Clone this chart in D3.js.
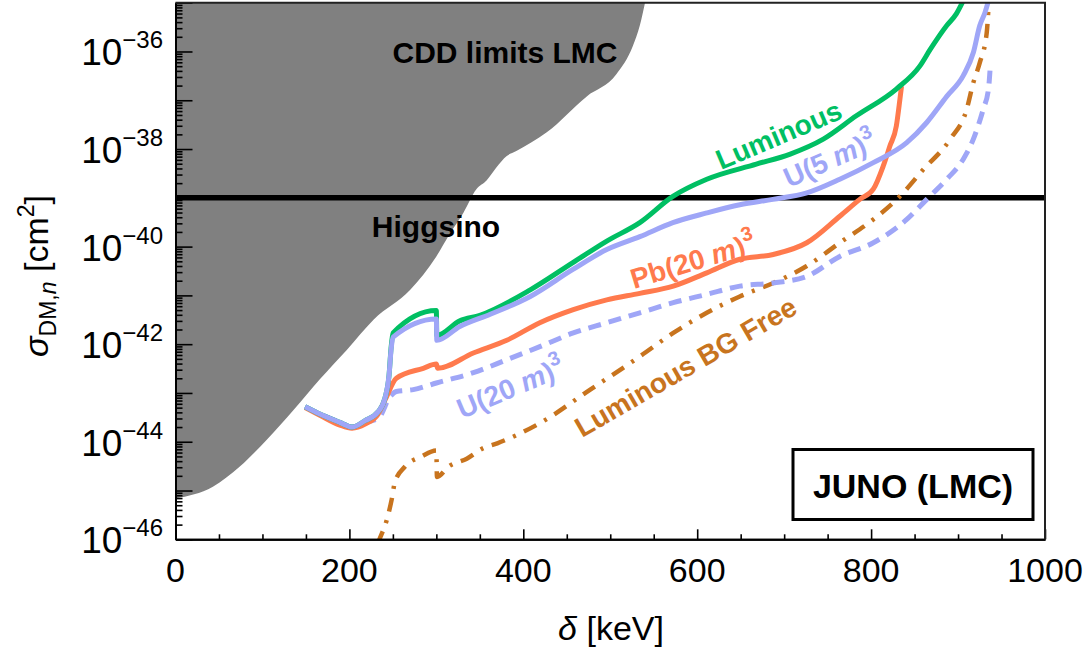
<!DOCTYPE html>
<html>
<head>
<meta charset="utf-8">
<script src="https://cdn.jsdelivr.net/npm/d3@7"></script>
<style>
  body { margin: 0; background: #fff; }
  text { font-family: "Liberation Sans", Arial, sans-serif; }
</style>
</head>
<body>
<div id="chart"></div>
<script>
// ---- data ----
// CDD limits LMC, lower boundary of the grey region
const cddX = [0, 43, 74, 105, 136, 166, 197, 228, 270, 300, 316, 331, 346, 358, 369, 381, 392, 427, 473, 507, 526, 534, 540];
const cddY = [6.9e-46, 1.2e-45, 3.1e-45, 1.1e-44, 4.5e-44, 1.9e-43, 7.6e-43, 3.2e-42, 1.3e-41, 6.3e-41, 1.9e-40, 4.9e-40,
  1.5e-39, 2.3e-39, 4.2e-39, 7.2e-39, 9.1e-39, 2.2e-38, 1.2e-37, 3.4e-37, 1.3e-36, 3.4e-36, 1e-35];

// Luminous (green)
const lumX = [149, 166, 189, 203, 218, 233, 241, 245.6, 247.9, 250.2, 300, 300.5, 327, 350, 408, 457, 496, 534, 572, 611, 668, 707, 745, 783, 829, 856, 868, 887, 898, 906];
const lumY = [5.2e-44, 3.7e-44, 2.5e-44, 2.0e-44, 2.7e-44, 4.1e-44, 7.9e-44, 2.3e-43, 8.3e-43, 1.7e-42, 4.9e-42, 1.5e-42, 3.0e-42, 3.9e-42,
  1.3e-41, 4.7e-41, 1.3e-40, 3.1e-40, 1.07e-39, 2.4e-39, 4.9e-39, 7.9e-39, 1.6e-38, 4.8e-38, 1.7e-37, 5.0e-37, 1.1e-36, 3.4e-36, 5.9e-36, 1.1e-35];

// U(5 m)^3 (lavender, solid)
const u5X = [149, 166, 189, 203, 218, 233, 241, 245.6, 247.9, 250.2, 300, 300.5, 327, 362, 408, 457, 496, 534, 572, 611, 649, 687, 726, 764, 802, 841, 864, 887, 906, 917.6, 925, 931, 935];
const u5Y = [5.2e-44, 3.7e-44, 2.5e-44, 2.0e-44, 2.7e-44, 4.1e-44, 7.9e-44, 2.3e-43, 7.6e-43, 1.4e-42, 3.3e-42, 1.2e-42, 2.3e-42, 4.1e-42,
  9.5e-42, 3.4e-41, 8.7e-41, 1.6e-40, 3.1e-40, 4.9e-40, 7.2e-40, 9.3e-40, 1.26e-39, 2.4e-39, 5.2e-39, 1.35e-38, 3.5e-38, 1.2e-37,
  3.2e-37, 9.5e-37, 3.4e-36, 6.3e-36, 1.1e-35];

// Pb(20 m)^3 (coral)
const pbX = [149, 166, 189, 203, 218, 233, 241, 254, 285, 300, 301.5, 342.5, 381, 419, 457.5, 496, 534, 572.5, 611, 649, 687.5, 726, 764, 787, 802.5, 814, 821.6, 829, 833, 835];
const pbY = [5.0e-44, 3.5e-44, 2.2e-44, 1.9e-44, 2.3e-44, 3.7e-44, 7.2e-44, 2.0e-43, 3.2e-43, 3.9e-43, 3.2e-43, 6.6e-43, 1.2e-42, 2.75e-42,
  5.1e-42, 8.1e-42, 1.1e-41, 1.55e-41, 2.9e-41, 5.5e-41, 6.9e-41, 1.2e-40, 4.2e-40, 9.3e-40, 1.5e-39, 4.5e-39, 1.15e-38, 2.95e-38, 1.0e-37, 1.95e-37];

// U(20 m)^3 (lavender, dashed)
const u20X = [149, 166, 189, 203, 218, 233, 247, 254, 273.5, 300, 342.5, 381, 419, 457.5, 496, 534, 572.5, 611, 649, 687.5, 726, 764, 802.5, 841, 864, 887, 906, 917.6, 929, 935, 937];
const u20Y = [5.2e-44, 3.7e-44, 2.5e-44, 2.0e-44, 2.5e-44, 3.0e-44, 8.5e-44, 1.07e-43, 1.17e-43, 1.6e-43, 2.6e-43, 4.8e-43, 8.9e-43, 1.7e-42,
  2.75e-42, 4.4e-42, 7.1e-42, 1.05e-41, 1.55e-41, 1.8e-41, 2.45e-41, 6.3e-41, 1.2e-40, 3.6e-40, 9.3e-40, 2.4e-39, 6.2e-39, 1.6e-38,
  6.6e-38, 1.7e-37, 4.8e-37];

// Luminous BG Free (brown, dash-dot)
const bgX = [232, 235, 243, 248.6, 252.4, 264, 283, 300, 300.7, 314, 335, 354, 370, 419, 477, 534, 572.5, 611, 649, 687.5, 726, 764, 802.5, 833, 860, 891, 910, 917.6, 925, 933, 935];
const bgY = [7.9e-47, 1.05e-46, 2.5e-46, 6.5e-46, 1.5e-45, 3.1e-45, 5.0e-45, 6.6e-45, 1.9e-45, 3.1e-45, 4.5e-45, 7.4e-45, 9.3e-45, 2.4e-44,
  1.17e-43, 5.6e-43, 1.7e-42, 4.4e-42, 9.5e-42, 1.8e-41, 4.0e-41, 1.2e-40, 3.6e-40, 1.07e-39, 3.8e-39, 1.6e-38, 6.6e-38, 2.3e-37,
  5.9e-37, 2.45e-36, 8.1e-36];

// Higgsino reference level
const higgsino = 1e-39;

// ticks
const xMajor = [0, 200, 400, 600, 800, 1000];
const xMinor = [50, 100, 150, 250, 300, 350, 450, 500, 550, 650, 700, 750, 850, 900, 950];
const yDecades = [-46, -45, -44, -43, -42, -41, -40, -39, -38, -37, -36, -35];
const yLabelExp = [-46, -44, -42, -40, -38, -36];

// ---- layout ----
const width = 1092;
const height = 658;
const pLeft = 175.5, pRight = 1045, pTop = 2.7, pBottom = 539.3;

const svg = d3.select("#chart")
  .append("svg")
  .attr("width", width)
  .attr("height", height);

const x = d3.scaleLinear().domain([0, 1000]).range([pLeft, pRight]);
const y = d3.scaleLog().domain([1e-46, 1e-35]).range([pBottom, pTop]);

svg.append("clipPath")
  .attr("id", "clip")
  .append("rect")
  .attr("x", pLeft).attr("y", pTop)
  .attr("width", pRight - pLeft).attr("height", pBottom - pTop);

const plot = svg.append("g").attr("clip-path", "url(#clip)");

// grey CDD region
const cdd = cddX.map((d, i) => ({ x: d, y: cddY[i] }));
plot.append("path")
  .datum(cdd)
  .attr("fill", "#808080")
  .attr("d", d3.area()
    .x(d => x(d.x))
    .y0(y(1e-35))
    .y1(d => y(d.y))
    .curve(d3.curveMonotoneX));

// Higgsino line
plot.append("line")
  .attr("x1", x(0)).attr("x2", x(1000))
  .attr("y1", y(higgsino)).attr("y2", y(higgsino))
  .attr("stroke", "#000")
  .attr("stroke-width", 5.5);

const line = d3.line()
  .x(d => x(d.x))
  .y(d => y(d.y))
  .curve(d3.curveMonotoneX);

const series = [
  { xs: bgX, ys: bgY, color: "#c8741e", width: 4.5, dash: "14,9,3,9" },
  { xs: u20X, ys: u20Y, color: "#9fa6f7", width: 5, dash: "13,8" },
  { xs: pbX, ys: pbY, color: "#ff7a4d", width: 5, dash: null },
  { xs: lumX, ys: lumY, color: "#00bf63", width: 5, dash: null },
  { xs: u5X, ys: u5Y, color: "#9fa6f7", width: 5, dash: null }
];

series.forEach(s => {
  plot.append("path")
    .datum(s.xs.map((d, i) => ({ x: d, y: s.ys[i] })))
    .attr("fill", "none")
    .attr("stroke", s.color)
    .attr("stroke-width", s.width)
    .attr("stroke-dasharray", s.dash)
    .attr("stroke-linejoin", "round")
    .attr("d", line);
});

// ---- axes ----
const xMinorTicks = svg.append("g")
  .attr("transform", `translate(0,${pBottom})`)
  .call(d3.axisBottom(x).tickValues(xMinor).tickSize(-5).tickSizeOuter(0).tickFormat(""));
const xAxis = svg.append("g")
  .attr("transform", `translate(0,${pBottom})`)
  .call(d3.axisBottom(x).tickValues(xMajor).tickSize(-10).tickSizeOuter(0).tickFormat(""));

const yMinor = [];
yDecades.slice(0, -1).forEach(k => {
  for (let m = 2; m <= 9; m++) yMinor.push(m * Math.pow(10, k));
});
const yMinorTicks = svg.append("g")
  .attr("transform", `translate(${pLeft},0)`)
  .call(d3.axisLeft(y).tickValues(yMinor).tickSize(-7).tickSizeOuter(0).tickFormat(""));
const yAxis = svg.append("g")
  .attr("transform", `translate(${pLeft},0)`)
  .call(d3.axisLeft(y).tickValues(yDecades.map(k => Math.pow(10, k))).tickSize(-17).tickSizeOuter(0).tickFormat(""));

[xMinorTicks, xAxis, yMinorTicks, yAxis].forEach(g => {
  g.selectAll("line").attr("stroke", "#000").attr("stroke-width", 1.6);
  g.select(".domain").attr("stroke", "#000").attr("stroke-width", 2);
});

// frame top and right
svg.append("path")
  .attr("d", `M${pLeft},${pTop}H${pRight}V${pBottom}`)
  .attr("fill", "none")
  .attr("stroke", "#222")
  .attr("stroke-width", 2);

// x tick labels
svg.selectAll(".xlab")
  .data(xMajor)
  .enter()
  .append("text")
  .attr("x", d => x(d))
  .attr("y", 582)
  .attr("text-anchor", "middle")
  .style("font-size", "34px")
  .text(d => d);

// y tick labels 10^k
yLabelExp.forEach(k => {
  const t = svg.append("text")
    .attr("x", 163)
    .attr("y", y(Math.pow(10, k)) + 14)
    .attr("text-anchor", "end")
    .style("font-size", "37px");
  t.append("tspan").text("10");
  t.append("tspan").attr("dy", -17).style("font-size", "24px").text("\u2212" + Math.abs(k));
});

// axis titles
const xt = svg.append("text")
  .attr("x", 611)
  .attr("y", 640)
  .attr("text-anchor", "middle")
  .style("font-size", "34px");
xt.append("tspan").style("font-style", "italic").text("\u03b4");
xt.append("tspan").text(" [keV]");

const yt = svg.append("text")
  .attr("transform", "translate(48,276) rotate(-90)")
  .attr("text-anchor", "middle")
  .style("font-size", "34px");
yt.append("tspan").style("font-style", "italic").text("\u03c3");
yt.append("tspan").attr("dy", 8).style("font-size", "23px").text("DM,");
yt.append("tspan").style("font-size", "23px").style("font-style", "italic").text("n");
yt.append("tspan").attr("dy", -8).text(" [cm");
yt.append("tspan").attr("dy", -14).style("font-size", "23px").text("2");
yt.append("tspan").attr("dy", 14).text("]");

// ---- labels ----
svg.append("text")
  .attr("x", 505).attr("y", 63)
  .attr("text-anchor", "middle")
  .style("font-size", "30px").style("font-weight", "bold")
  .text("CDD limits LMC");

svg.append("text")
  .attr("x", 436).attr("y", 237)
  .attr("text-anchor", "middle")
  .style("font-size", "30px").style("font-weight", "bold")
  .text("Higgsino");

function rotLabel(px, py, angle, color, parts) {
  const t = svg.append("text")
    .attr("transform", `translate(${px},${py}) rotate(${angle})`)
    .attr("fill", color)
    .style("font-size", "28px").style("font-weight", "bold");
  parts.forEach(p => {
    const s = t.append("tspan").text(p.text);
    if (p.italic) s.style("font-style", "italic");
    if (p.sup) s.attr("dy", -13).style("font-size", "20px");
  });
}

rotLabel(721, 170, -23, "#00bf63", [{ text: "Luminous" }]);
rotLabel(789, 188, -24, "#9fa6f7", [{ text: "U(5 " }, { text: "m", italic: true }, { text: ")" }, { text: "3", sup: true }]);
rotLabel(634, 289, -17, "#ff7a4d", [{ text: "Pb(20 " }, { text: "m", italic: true }, { text: ")" }, { text: "3", sup: true }]);
rotLabel(462, 419, -23, "#9fa6f7", [{ text: "U(20 " }, { text: "m", italic: true }, { text: ")" }, { text: "3", sup: true }]);
rotLabel(582, 438, -30, "#c8741e", [{ text: "Luminous BG Free" }]);

// JUNO box
svg.append("rect")
  .attr("x", 793).attr("y", 449.5)
  .attr("width", 240).attr("height", 70)
  .attr("fill", "#fff")
  .attr("stroke", "#000")
  .attr("stroke-width", 3);

svg.append("text")
  .attr("x", 913).attr("y", 498)
  .attr("text-anchor", "middle")
  .style("font-size", "34px").style("font-weight", "bold")
  .text("JUNO (LMC)");
</script>
</body>
</html>
